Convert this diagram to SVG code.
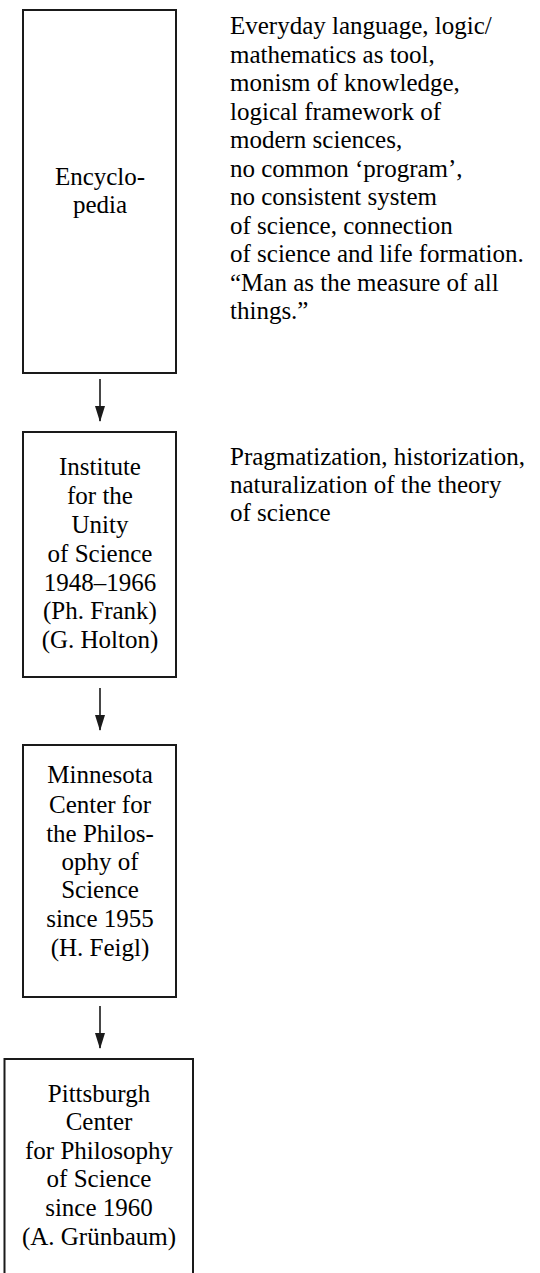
<svg xmlns="http://www.w3.org/2000/svg" width="540" height="1273" viewBox="0 0 540 1273">
<defs>
<marker id="ah" markerWidth="16" markerHeight="10" refX="15" refY="5" orient="auto" markerUnits="userSpaceOnUse" viewBox="0 0 16 10">
<path d="M0,0 L16,5 L0,10 Z" fill="#1a1a1a"/>
</marker>
</defs>
<rect width="540" height="1273" fill="#fff"/>
<g id="n1">
<rect x="23" y="10" width="153" height="363" fill="#fff" stroke="#1a1a1a" stroke-width="2"/>
<text font-family="Liberation Serif" font-size="25" text-anchor="middle" x="100" y="185">Encyclo-</text>
<text font-family="Liberation Serif" font-size="25" text-anchor="middle" x="100" y="213">pedia</text>
</g>
<g id="note1">
<text font-family="Liberation Serif" font-size="25" x="230" y="34">Everyday language, logic/</text>
<text font-family="Liberation Serif" font-size="25" x="230" y="62.5">mathematics as tool,</text>
<text font-family="Liberation Serif" font-size="25" x="230" y="91">monism of knowledge,</text>
<text font-family="Liberation Serif" font-size="25" x="230" y="119.5">logical framework of</text>
<text font-family="Liberation Serif" font-size="25" x="230" y="148">modern sciences,</text>
<text font-family="Liberation Serif" font-size="25" x="230" y="176.5">no common ‘program’,</text>
<text font-family="Liberation Serif" font-size="25" x="230" y="205">no consistent system</text>
<text font-family="Liberation Serif" font-size="25" x="230" y="233.5">of science, connection</text>
<text font-family="Liberation Serif" font-size="25" x="230" y="262">of science and life formation.</text>
<text font-family="Liberation Serif" font-size="25" x="230" y="290.5">“Man as the measure of all</text>
<text font-family="Liberation Serif" font-size="25" x="230" y="319">things.”</text>
</g>
<g id="n2">
<rect x="23" y="432" width="153" height="245" fill="#fff" stroke="#1a1a1a" stroke-width="2"/>
<text font-family="Liberation Serif" font-size="25" text-anchor="middle" x="100" y="475">Institute</text>
<text font-family="Liberation Serif" font-size="25" text-anchor="middle" x="100" y="504">for the</text>
<text font-family="Liberation Serif" font-size="25" text-anchor="middle" x="100" y="533">Unity</text>
<text font-family="Liberation Serif" font-size="25" text-anchor="middle" x="100" y="562">of Science</text>
<text font-family="Liberation Serif" font-size="25" text-anchor="middle" x="100" y="591">1948–1966</text>
<text font-family="Liberation Serif" font-size="25" text-anchor="middle" x="100" y="619">(Ph. Frank)</text>
<text font-family="Liberation Serif" font-size="25" text-anchor="middle" x="100" y="648">(G. Holton)</text>
</g>
<g id="note2">
<text font-family="Liberation Serif" font-size="25" x="230" y="465">Pragmatization, historization,</text>
<text font-family="Liberation Serif" font-size="25" x="230" y="493">naturalization of the theory</text>
<text font-family="Liberation Serif" font-size="25" x="230" y="521">of science</text>
</g>
<g id="n3">
<rect x="23" y="745" width="153" height="252" fill="#fff" stroke="#1a1a1a" stroke-width="2"/>
<text font-family="Liberation Serif" font-size="25" text-anchor="middle" x="100" y="783">Minnesota</text>
<text font-family="Liberation Serif" font-size="25" text-anchor="middle" x="100" y="813">Center for</text>
<text font-family="Liberation Serif" font-size="25" text-anchor="middle" x="100" y="842">the Philos-</text>
<text font-family="Liberation Serif" font-size="25" text-anchor="middle" x="100" y="870">ophy of</text>
<text font-family="Liberation Serif" font-size="25" text-anchor="middle" x="100" y="898">Science</text>
<text font-family="Liberation Serif" font-size="25" text-anchor="middle" x="100" y="927">since 1955</text>
<text font-family="Liberation Serif" font-size="25" text-anchor="middle" x="100" y="956">(H. Feigl)</text>
</g>
<g id="n4">
<path d="M4.5,1275 V1059 H193 V1275" fill="#fff" stroke="#1a1a1a" stroke-width="2"/>
<text font-family="Liberation Serif" font-size="25" text-anchor="middle" x="99" y="1102">Pittsburgh</text>
<text font-family="Liberation Serif" font-size="25" text-anchor="middle" x="99" y="1130">Center</text>
<text font-family="Liberation Serif" font-size="25" text-anchor="middle" x="99" y="1159">for Philosophy</text>
<text font-family="Liberation Serif" font-size="25" text-anchor="middle" x="99" y="1187">of Science</text>
<text font-family="Liberation Serif" font-size="25" text-anchor="middle" x="99" y="1216">since 1960</text>
<text font-family="Liberation Serif" font-size="25" text-anchor="middle" x="99" y="1245">(A. Grünbaum)</text>
</g>
<g id="connectors" stroke="#1a1a1a" stroke-width="1.6" fill="none">
<line x1="100" y1="379" x2="100" y2="421" marker-end="url(#ah)"/>
<line x1="100" y1="688" x2="100" y2="730" marker-end="url(#ah)"/>
<line x1="100" y1="1006" x2="100" y2="1048" marker-end="url(#ah)"/>
</g>
</svg>
